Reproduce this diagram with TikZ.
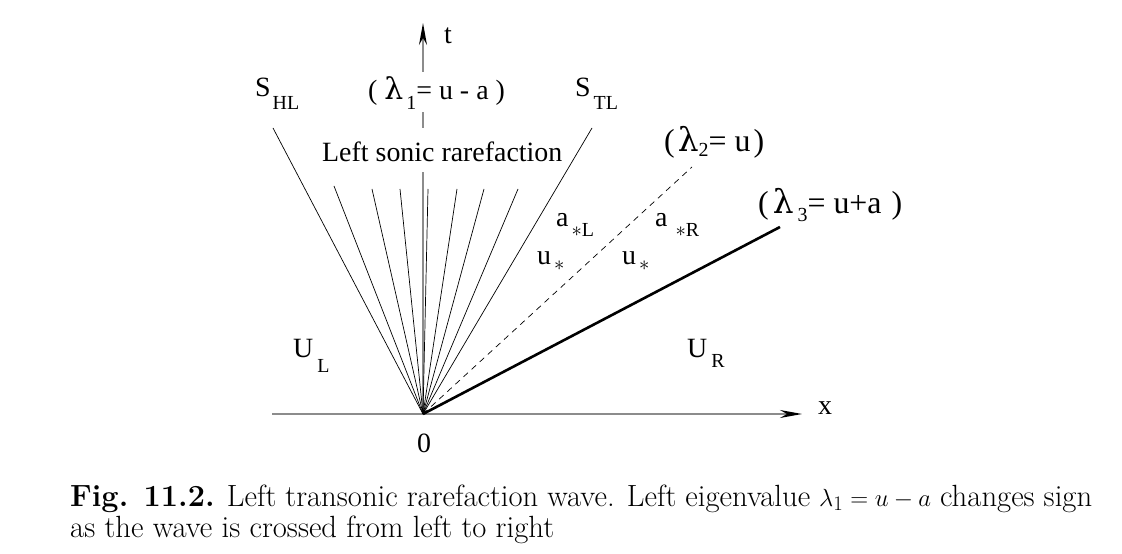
\documentclass[tikz,border=0pt]{standalone}
\usepackage{fontspec}
\newfontfamily\tnr{Liberation Serif}
\newfontfamily\lamfam{DejaVu Serif}
\usetikzlibrary{arrows.meta}
\newcommand\bigf{\tnr\fontsize{28}{28}\selectfont}
\newcommand\lamf{\tnr\fontsize{32}{32}\selectfont}
\newcommand\subf{\fontsize{20}{20}\selectfont}
\newcommand\sbx[2]{\raisebox{-#1}{\subf #2}}
\newcommand\biglam[1]{{\lamfam\fontsize{#1}{#1}\selectfont λ}}
\begin{document}
\begin{tikzpicture}[x=1bp,y=-1bp,
  lbl/.style={font=\bigf, inner sep=0pt, anchor=base west},
  lamlbl/.style={font=\lamf, inner sep=0pt, anchor=base west},
  fanline/.style={line width=0.7bp, black},
  axisline/.style={line width=1.5bp, black!45, -{Stealth[length=22bp,width=8bp,inset=7bp,color=black]}},
  contact/.style={line width=0.7bp, black, dash pattern=on 6bp off 5bp},
  shockline/.style={line width=2.6bp, black}]
\useasboundingbox (0,0) rectangle (1122,554);
% origin and fan ends
\coordinate (O) at (423,414);
\coordinate (xs) at (272,414);
\coordinate (xe) at (802,414);
\coordinate (te) at (423,23);
\coordinate (head) at (273,128);
\coordinate (tail) at (592,128);
\coordinate (c2) at (692,167);
\coordinate (c3) at (780,227);
% axes
\draw[axisline] (xs) -- (xe);
\draw[axisline] (O) -- (te);
% fan
\draw[fanline] (O) -- (head);
\draw[fanline] (O) -- (tail);
\foreach \k/\px/\py in {1/334/186, 2/372/189, 3/400/189, 4/428/189, 5/457/189, 6/484/189, 7/518/189}{
  \coordinate (f\k) at (\px,\py);
  \draw[fanline] (O) -- (f\k);
}
\draw[contact] (O) -- (c2);
\draw[shockline] (O) -- (c3);
% labels
\node[lbl] (tlab) at (444,44) {t};
\node[lbl] (xlab) at (818,414) {x};
\node[lbl, anchor=base] (zero) at (424,452) {0};
\node[lbl] (shl) at (255,97) {S\hspace{2bp}\sbx{13bp}{HL}};
\node[lbl] (stl) at (575,97) {S\hspace{3bp}\sbx{13bp}{TL}};
\node[lbl, fill=white, text height=28bp, text depth=12bp] (lam1) at (368,100) {(\hspace{7bp}\biglam{30}\hspace{3bp}\sbx{10bp}{1}= u - a )};
\node[lbl, fill=white, text height=34bp, text depth=10bp] (lsr) at (322,162) {Left sonic rarefaction};
\node[lamlbl] (lam2) at (664,152) {(\hspace{3bp}\biglam{33}\sbx{5bp}{2}= u\hspace{3bp})};
\node[lamlbl] (lam3) at (758,214) {(\hspace{4bp}\biglam{33}\hspace{4bp}\sbx{8bp}{3}= u+a\hspace{2bp} )};
\node[lbl] (asl) at (556,227) {a\hspace{3bp}\sbx{10bp}{$\ast$L}};
\node[lbl] (asr) at (655,227) {a\hspace{8bp}\sbx{10bp}{$\ast$R}};
\node[lbl] (us1) at (537,265) {u\hspace{3bp}\sbx{6bp}{$\ast$}};
\node[lbl] (us2) at (622,265) {u\hspace{3bp}\sbx{6bp}{$\ast$}};
\node[lbl] (ul) at (293,358) {U\hspace{4bp}\sbx{15bp}{L}};
\node[lbl] (ur) at (687,358) {U\hspace{4bp}\sbx{10bp}{R}};
% caption
\node[inner sep=0pt, anchor=base west] (cap) at (70,506) {\parbox[t]{1022bp}{\fontsize{30.8}{32}\selectfont\textbf{Fig. 11.2.} Left transonic rarefaction wave. Left eigenvalue $\lambda_1 = u - a$ changes sign\linebreak as the wave is crossed from left to right}};
\end{tikzpicture}
\end{document}
